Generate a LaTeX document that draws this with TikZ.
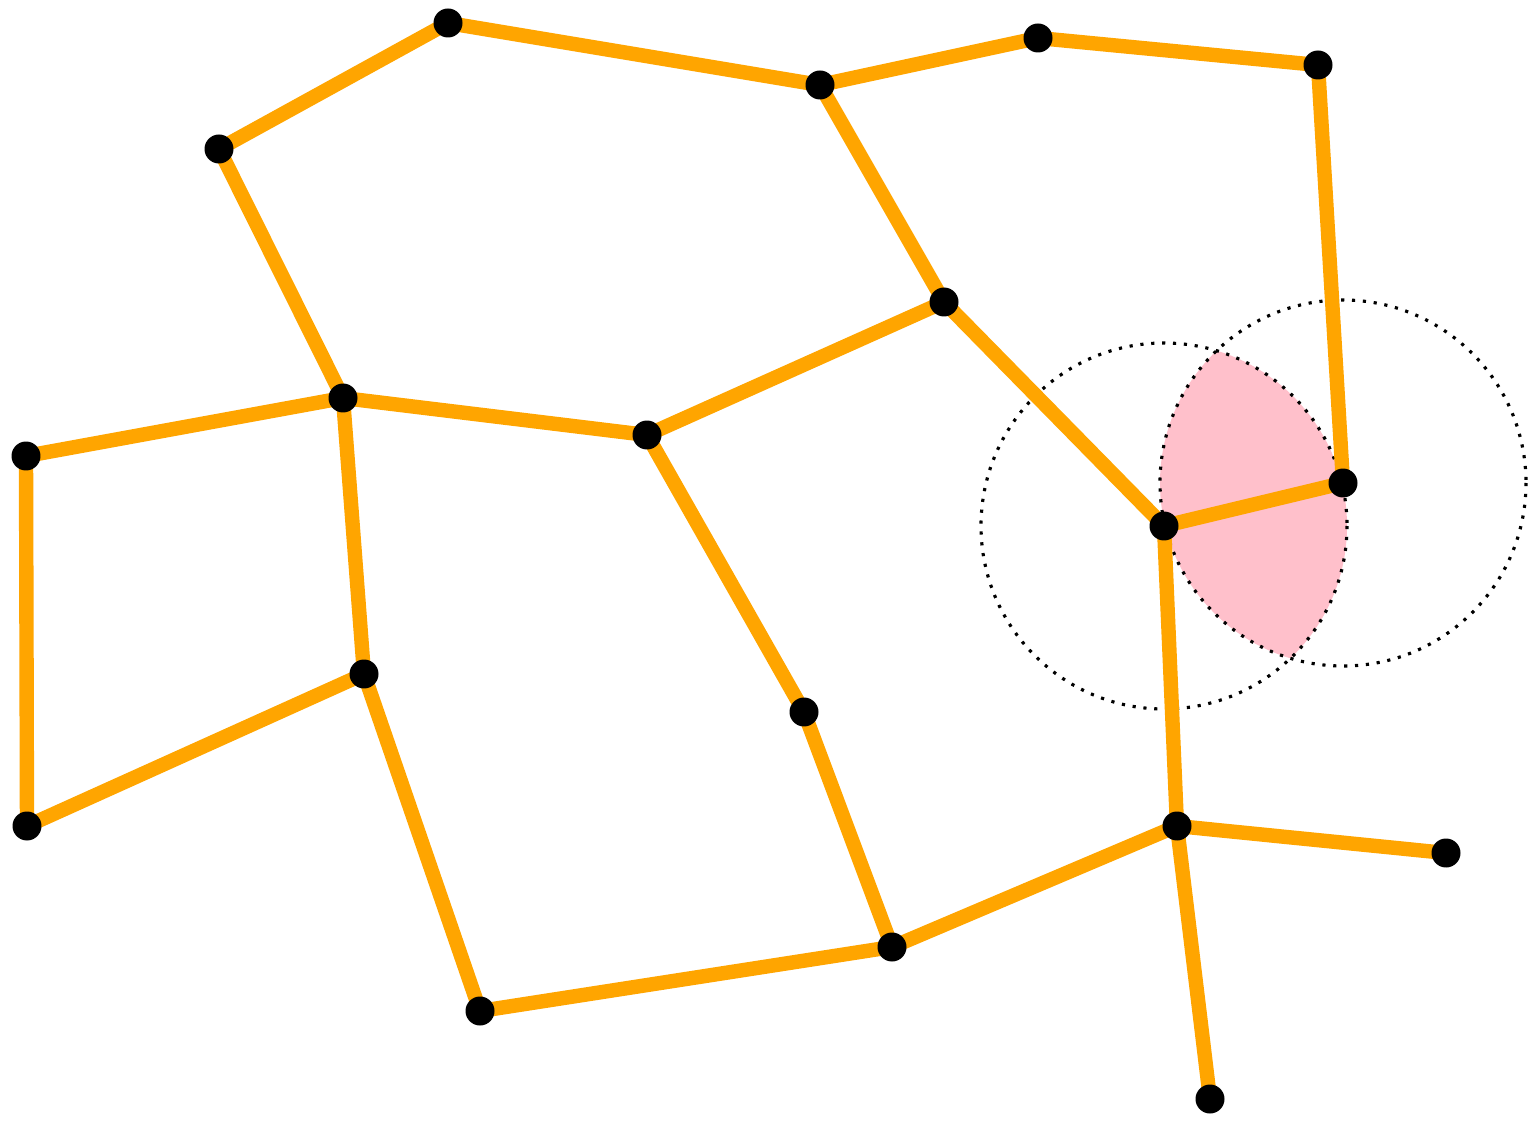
\documentclass[tikz,border=0pt]{standalone}
\definecolor{cam}{RGB}{255,165,0}
\definecolor{hong}{RGB}{255,192,203}
\begin{document}
\begin{tikzpicture}[x=.02cm, y=-.02cm,
	canh/.style={cam, line width=8.2pt},
	diem/.style={circle, fill=black, inner sep=0pt, minimum size=.58cm},
	vong/.style={black, line width=1.8pt, dash pattern=on 1.8pt off 4.4pt}]
	\useasboundingbox (0,0) rectangle (1528,1121);
	% cac dinh
	\coordinate (A) at (448,23);
	\coordinate (B) at (820,85);
	\coordinate (C) at (1038,38);
	\coordinate (D) at (1318,65);
	\coordinate (E) at (219,149);
	\coordinate (F) at (944,302);
	\coordinate (G) at (343,398);
	\coordinate (H) at (647,435);
	\coordinate (I) at (26,456);
	\coordinate (J) at (1164,526);
	\coordinate (K) at (1343,483);
	\coordinate (L) at (364,674);
	\coordinate (M) at (804,712);
	\coordinate (N) at (27,826);
	\coordinate (O) at (1177,826);
	\coordinate (P) at (1446,853);
	\coordinate (Q) at (892,947);
	\coordinate (R) at (480,1011);
	\coordinate (S) at (1210,1099);
	% phan giao hai hinh tron
	\begin{scope}
		\clip (J) circle (183);
		\fill[hong] (K) circle (183);
	\end{scope}
	\draw[vong] (J) circle (183);
	\draw[vong] (K) circle (183);
	% cac canh
	\foreach \a/\b in {E/A,A/B,B/C,C/D,D/K,B/F,F/J,J/K,E/G,G/I,I/N,N/L,G/L,G/H,H/F,H/M,M/Q,L/R,R/Q,Q/O,O/P,O/S,J/O}
	{\draw[canh] (\a)--(\b);}
	\foreach \p in {A,B,C,D,E,F,G,H,I,J,K,L,M,N,O,P,Q,R,S}
	{\node[diem] (d\p) at (\p) {};}
\end{tikzpicture}
\end{document}
